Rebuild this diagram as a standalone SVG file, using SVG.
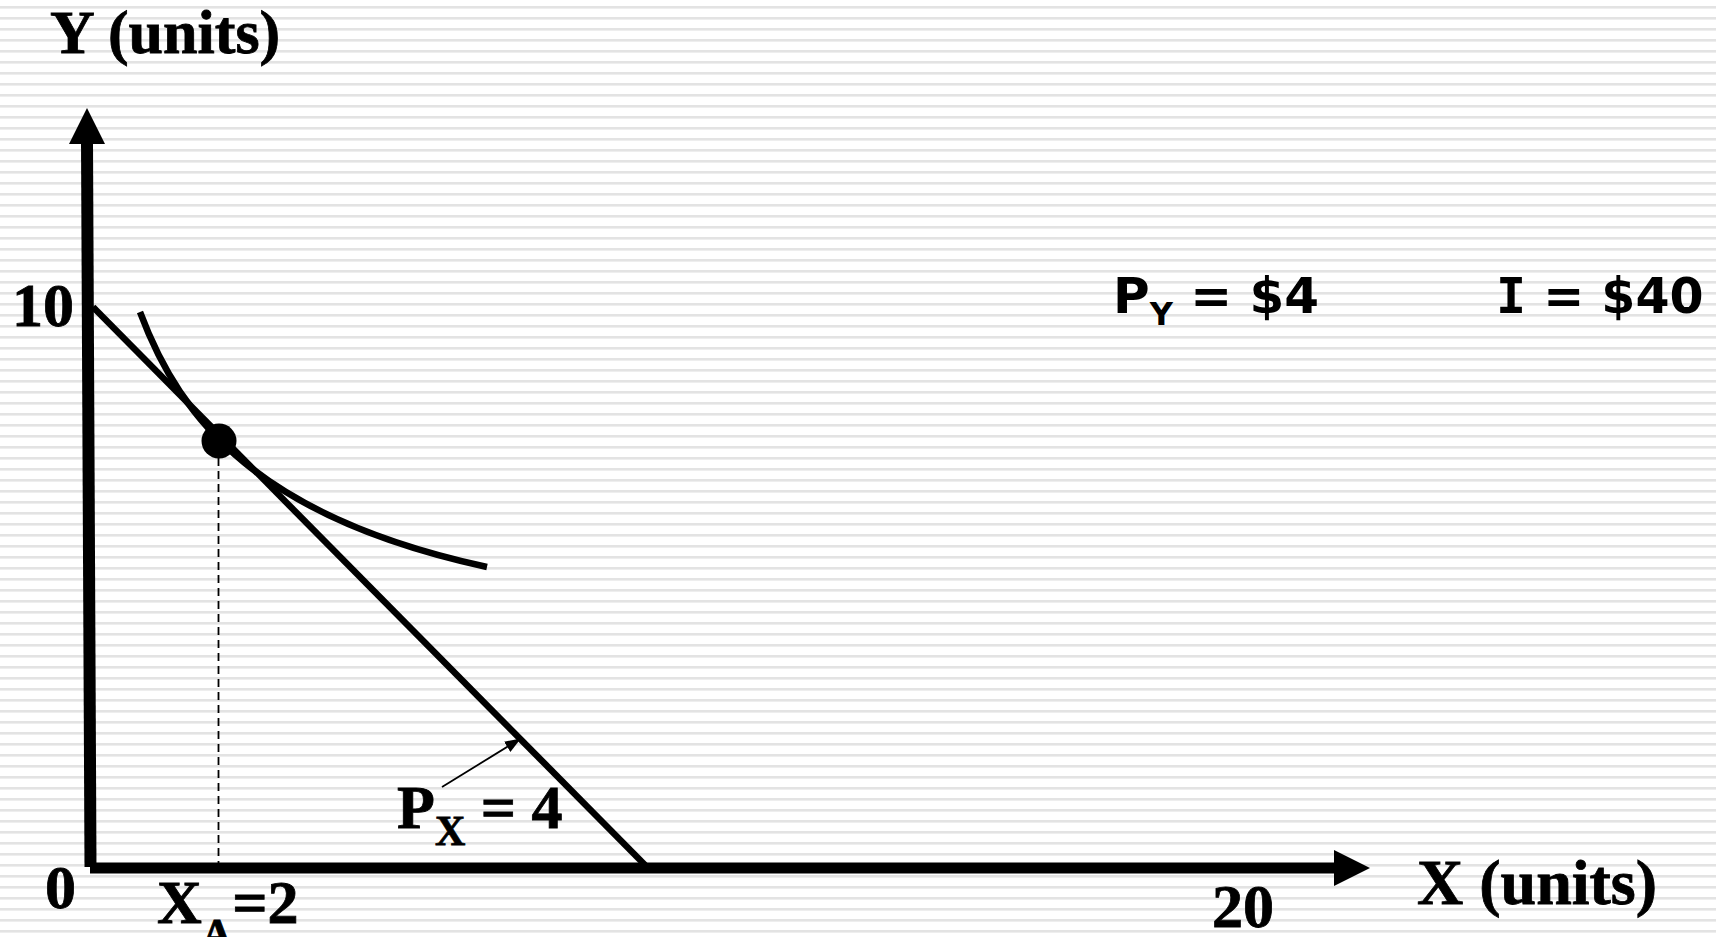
<svg xmlns="http://www.w3.org/2000/svg" width="1716" height="937" viewBox="0 0 1716 937">
<defs>
<pattern id="stripes" patternUnits="userSpaceOnUse" x="0" y="0" width="1716" height="11">
<rect x="0" y="6" width="1716" height="2.6" fill="#e3e3e3"/>
</pattern>
<marker id="thinArrow" viewBox="0 0 16 12" refX="15" refY="6" markerWidth="16" markerHeight="12" markerUnits="userSpaceOnUse" orient="auto">
<path d="M0,0 L16,6 L0,12 Z" fill="#000"/>
</marker>
<style>
.serif{font-family:"Liberation Serif","Times New Roman",serif;font-weight:bold;fill:#000;stroke:#000;stroke-width:0.8}
.sans{font-family:"DejaVu Sans",Verdana,sans-serif;font-weight:bold;fill:#000}
.mono{font-family:"DejaVu Sans Mono",monospace;font-weight:bold}
.axis{stroke:#000;fill:none;stroke-linecap:butt}
.thick{stroke:#000;stroke-width:6.5;fill:none}
</style>
</defs>
<rect width="1716" height="937" fill="#fff"/>
<rect width="1716" height="937" fill="url(#stripes)"/>

<g id="connectors">
<line class="axis" x1="87" y1="142" x2="90.5" y2="867" stroke-width="12"/>
<polygon points="87,108 105,144 69,144" fill="#000"/>
<line class="axis" x1="90" y1="868" x2="1336" y2="868" stroke-width="11"/>
<polygon points="1370,868 1334,850 1334,886" fill="#000"/>
<line class="thick" x1="93" y1="307" x2="645" y2="865"/>
<path class="thick" d="M140,312 C181,422 261,518 487,567"/>
<line x1="218.5" y1="458" x2="218.5" y2="863" stroke="#000" stroke-width="1.8" stroke-dasharray="8,5"/>
<line x1="442" y1="787" x2="520" y2="739" stroke="#000" stroke-width="1.8" marker-end="url(#thinArrow)"/>
</g>

<g id="tangent-point"><circle cx="219" cy="441" r="17.5" fill="#000"/></g>

<g id="y-axis-label"><text class="serif" x="50" y="53" font-size="62">Y (units)</text></g>
<g id="x-axis-label"><text class="serif" x="1417" y="904" font-size="64">X (units)</text></g>
<g id="y-tick-10"><text class="serif" x="12" y="326" font-size="62">10</text></g>
<g id="origin-0"><text class="serif" x="45" y="908" font-size="62">0</text></g>
<g id="x-tick-20"><text class="serif" x="1212" y="927" font-size="62">20</text></g>
<g id="xa-label"><text class="serif" x="157" y="923" font-size="62">X<tspan font-size="42" dy="25">A</tspan><tspan dy="-25">=2</tspan></text></g>
<g id="px-label"><text class="serif" x="397" y="828" font-size="62">P<tspan font-size="42" dy="17">X</tspan><tspan dy="-17"> = 4</tspan></text></g>
<g id="py-label"><text class="sans" x="1113" y="313" font-size="50">P<tspan font-size="32" dy="12">Y</tspan><tspan dy="-12"> = $4</tspan></text></g>
<g id="income-label"><text class="sans" x="1496" y="313" font-size="49"><tspan class="mono" font-size="50">I</tspan> = $40</text></g>
</svg>
